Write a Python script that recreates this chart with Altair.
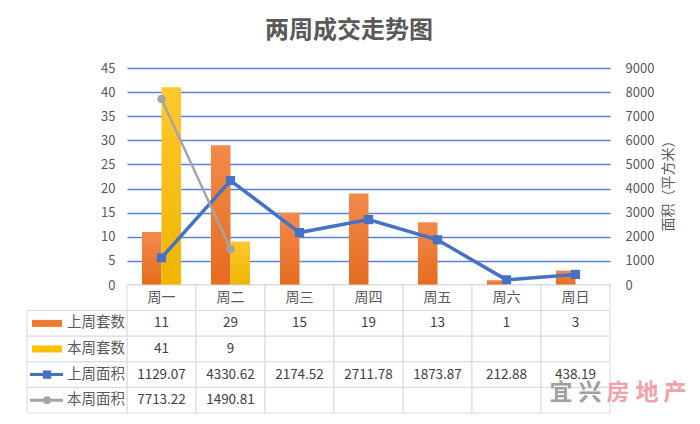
import altair as alt
import pandas as pd

days = ["周一", "周二", "周三", "周四", "周五", "周六", "周日"]
last_count = [11, 29, 15, 19, 13, 1, 3]
this_count = [41, 9, None, None, None, None, None]
last_area = [1129.07, 4330.62, 2174.52, 2711.78, 1873.87, 212.88, 438.19]
this_area = [7713.22, 1490.81, None, None, None, None, None]
series = ["上周套数", "本周套数", "上周面积", "本周面积"]
rows = ["hdr"] + series
wm_chars = ["宜", "兴", "房", "地", "产"]

FONT = "Noto Sans CJK SC"
TXT = "#595959"
ORANGE = "#ED7D31"
YELLOW = "#FFC000"
BLUE = "#4472C4"
GRAY = "#A5A5A5"
BORDER = "#D9D9D9"

xscale = alt.Scale(domain=days, paddingInner=0, paddingOuter=0)
X = alt.X("day:N", sort=days, scale=xscale, axis=None)

# ---------- bars ----------
bar_last_df = pd.DataFrame({"day": days, "count": last_count})
bar_this_df = pd.DataFrame({"day": days, "count": this_count}).dropna()

ycount = alt.Y(
    "count:Q",
    scale=alt.Scale(domain=[0, 45], range=[217, 0]),
    axis=alt.Axis(values=list(range(0, 50, 5)), grid=True, gridColor="#5B7FDB",
                  gridWidth=1.7, domain=False, ticks=False, labelPadding=12,
                  labelFontSize=13, labelColor=TXT, labelFont=FONT, title=None),
)

grad_orange = alt.Gradient(gradient="linear", x1=0, x2=0, y1=0, y2=1,
                           stops=[alt.GradientStop(color="#F28A4C", offset=0),
                                  alt.GradientStop(color="#E66C1E", offset=1)])
grad_yellow = alt.Gradient(gradient="linear", x1=0, x2=0, y1=0, y2=1,
                           stops=[alt.GradientStop(color="#FFC82E", offset=0),
                                  alt.GradientStop(color="#EFB500", offset=1)])

bar_last = alt.Chart(bar_last_df).mark_bar(width=19.5, xOffset=-9.75, color=grad_orange).encode(x=X, y=ycount)
bar_this = alt.Chart(bar_this_df).mark_bar(width=19.5, xOffset=9.75, color=grad_yellow).encode(x=X, y=ycount)
bars = alt.layer(bar_last, bar_this)

# ---------- lines ----------
line_last_df = pd.DataFrame({"day": days, "area": last_area})
line_this_df = pd.DataFrame({"day": days, "area": this_area}).dropna()

yarea = alt.Y(
    "area:Q",
    scale=alt.Scale(domain=[0, 9000], range=[217, 0]),
    axis=alt.Axis(orient="right", values=list(range(0, 10000, 1000)), format="d", grid=False,
                  domain=False, ticks=False, labelPadding=15, labelFontSize=13,
                  labelColor=TXT, labelFont=FONT, title="面积（平方米）",
                  titleAngle=270, titleFontSize=14, titleColor=TXT, titleFont=FONT,
                  titleFontWeight="normal", titleX=58, titleY=114,
                  titleAlign="center", titleBaseline="middle"),
)

line_last = alt.Chart(line_last_df).mark_line(color=BLUE, strokeWidth=3.5).encode(x=X, y=yarea)
pts_last = alt.Chart(line_last_df).mark_point(shape="square", filled=True, size=85, color=BLUE, opacity=1).encode(x=X, y=yarea)
line_this = alt.Chart(line_this_df).mark_line(color=GRAY, strokeWidth=2.5).encode(x=X, y=yarea)
pts_this = alt.Chart(line_this_df).mark_point(shape="circle", filled=True, size=75, color=GRAY, opacity=1).encode(x=X, y=yarea)
lines = alt.layer(line_last, pts_last, line_this, pts_this)

# ---------- table ----------
yrow_scale = alt.Scale(domain=rows, range=[217, 345], paddingInner=0, paddingOuter=0)
YR = alt.Y("row:N", sort=rows, scale=yrow_scale, axis=None)

cells_df = pd.DataFrame([{"day": d, "row": r} for d in days for r in rows])
cells = alt.Chart(cells_df).mark_rect(fill="white", stroke=BORDER, strokeWidth=1).encode(x=X, y=YR)

left_df = pd.DataFrame({"row": series})
left_cells = alt.Chart(left_df).mark_rect(fill="white", stroke=BORDER, strokeWidth=1).encode(
    x=alt.value(-100), x2=alt.value(0), y=YR)

hdr_df = pd.DataFrame({"day": days, "row": ["hdr"] * 7})
hdr_text = alt.Chart(hdr_df).mark_text(font=FONT, fontSize=14, color=TXT, baseline="middle").encode(
    x=X, y=YR, text="day:N")

vals = []
for i, d in enumerate(days):
    vals.append({"day": d, "row": "上周套数", "label": str(last_count[i])})
    if this_count[i] is not None:
        vals.append({"day": d, "row": "本周套数", "label": str(this_count[i])})
    vals.append({"day": d, "row": "上周面积", "label": f"{last_area[i]:.2f}"})
    if this_area[i] is not None:
        vals.append({"day": d, "row": "本周面积", "label": f"{this_area[i]:.2f}"})
vals_df = pd.DataFrame(vals)
val_text = alt.Chart(vals_df).mark_text(font=FONT, fontSize=13.5, color="#404040", baseline="middle").encode(
    x=X, y=YR, text="label:N")

leg_text = alt.Chart(left_df).mark_text(font=FONT, fontSize=14.5, color=TXT, align="left", baseline="middle").encode(
    x=alt.value(-60), y=YR, text="row:N")

leg_bar_o = alt.Chart(pd.DataFrame({"row": ["上周套数"]})).mark_rule(color=ORANGE, strokeWidth=7).encode(
    x=alt.value(-95), x2=alt.value(-65), y=YR)
leg_bar_y = alt.Chart(pd.DataFrame({"row": ["本周套数"]})).mark_rule(color=YELLOW, strokeWidth=7).encode(
    x=alt.value(-95), x2=alt.value(-65), y=YR)
leg_line_b = alt.Chart(pd.DataFrame({"row": ["上周面积"]})).mark_rule(color=BLUE, strokeWidth=3).encode(
    x=alt.value(-97), x2=alt.value(-64), y=YR)
leg_pt_b = alt.Chart(pd.DataFrame({"row": ["上周面积"]})).mark_point(shape="square", filled=True, size=70, color=BLUE, opacity=1).encode(
    x=alt.value(-80), y=YR)
leg_line_g = alt.Chart(pd.DataFrame({"row": ["本周面积"]})).mark_rule(color=GRAY, strokeWidth=3).encode(
    x=alt.value(-97), x2=alt.value(-64), y=YR)
leg_pt_g = alt.Chart(pd.DataFrame({"row": ["本周面积"]})).mark_point(shape="circle", filled=True, size=60, color=GRAY, opacity=1).encode(
    x=alt.value(-80), y=YR)

table = alt.layer(cells, left_cells, hdr_text, val_text, leg_text,
                  leg_bar_o, leg_bar_y, leg_line_b, leg_pt_b, leg_line_g, leg_pt_g)

# ---------- decorations ----------
title = alt.Chart(pd.DataFrame({"t": ["两周成交走势图"]})).mark_text(
    font=FONT, fontSize=24, fontWeight="bold", color=TXT, baseline="middle").encode(
    x=alt.value(222), y=alt.value(-37), text="t:N")

wm_x = [434, 463, 491, 520, 548]
wm_col = ["#A0A0A0", "#A0A0A0", "#F4A0AB", "#F4A0AB", "#F4A0AB"]
wm_layers = []
for ch, xx, cc in zip(wm_chars, wm_x, wm_col):
    wm_layers.append(
        alt.Chart(pd.DataFrame({"t": [ch]})).mark_text(
            font=FONT, fontSize=23, fontWeight="bold", color=cc, baseline="middle").encode(
            x=alt.value(xx), y=alt.value(325), text="t:N"))
decor = alt.layer(title, *wm_layers)

chart = alt.layer(bars, lines, table, decor).resolve_scale(y="independent").properties(
    width=483, height=345,
    padding={"left": 119, "top": 60, "right": 82, "bottom": 3},
    autosize=alt.AutoSizeParams(type="none"),
    background="white",
).configure_view(strokeWidth=0)

chart.save("out.html", embed_options={"renderer": "svg", "actions": False})
